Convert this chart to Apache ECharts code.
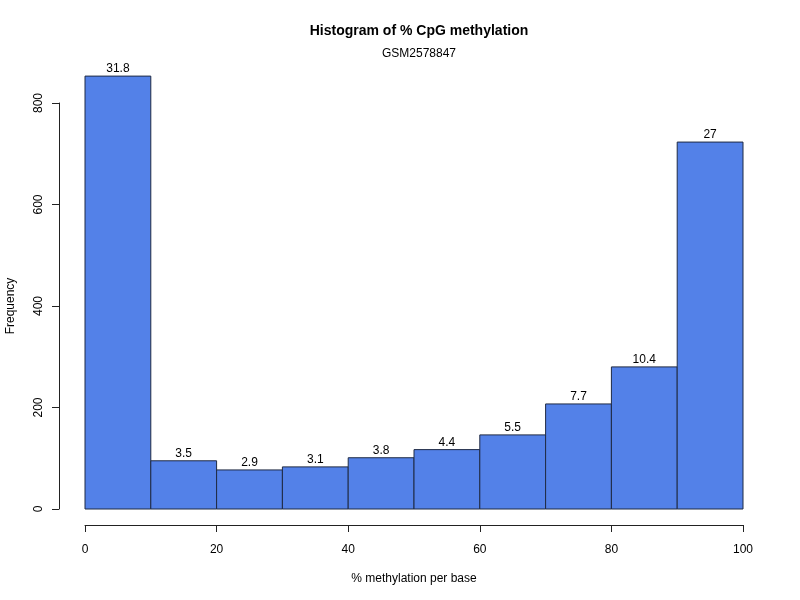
<!DOCTYPE html>
<html>
<head>
<meta charset="utf-8">
<script src="https://cdn.jsdelivr.net/npm/echarts@6/dist/echarts.min.js"></script>
<style>html,body{margin:0;padding:0;background:#fff;}#c{width:800px;height:600px;}</style>
</head>
<body>
<div id="c"></div>
<script>
const binStart = [0, 10, 20, 30, 40, 50, 60, 70, 80, 90];
const binEnd = [10, 20, 30, 40, 50, 60, 70, 80, 90, 100];
const frequency = [853, 95, 77, 83, 101, 117, 146, 207, 280, 723];
const percentLabels = ['31.8', '3.5', '2.9', '3.1', '3.8', '4.4', '5.5', '7.7', '10.4', '27'];
const xTicks = [0, 20, 40, 60, 80, 100];
const yTicks = [0, 200, 400, 600, 800];

const FONT = '"Liberation Sans", Arial, Helvetica, sans-serif';
const chart = echarts.init(document.getElementById('c'), null, {renderer: 'canvas'});
const data = binStart.map((s, i) => [s, binEnd[i], frequency[i]]);

chart.setOption({
  backgroundColor: '#ffffff',
  animation: false,
  title: [
    {text: 'Histogram of % CpG methylation', left: 414, top: 19, textAlign: 'center',
     textStyle: {fontFamily: FONT, fontSize: 14, fontWeight: 'bold', color: '#000'}},
    {text: 'GSM2578847', left: 414, top: 43, textAlign: 'center',
     textStyle: {fontFamily: FONT, fontSize: 12, fontWeight: 'normal', color: '#000'}}
  ],
  grid: {left: 85, right: 57, top: 103, bottom: 91, containLabel: false, outerBoundsMode: 'none'},
  xAxis: {
    type: 'value', min: 0, max: 100, interval: 20, offset: 16,
    name: '% methylation per base', nameLocation: 'middle', nameGap: 48,
    nameTextStyle: {fontFamily: FONT, fontSize: 12, color: '#000'},
    axisLine: {show: true, onZero: false, lineStyle: {color: '#222', width: 1}},
    axisTick: {show: true, length: 7, lineStyle: {color: '#222'}},
    axisLabel: {fontFamily: FONT, fontSize: 12, color: '#000', margin: 19,
      formatter: v => xTicks.includes(v) ? String(v) : ''},
    splitLine: {show: false}
  },
  yAxis: {
    type: 'value', min: 0, max: 800, interval: 200, offset: 26,
    name: 'Frequency', nameLocation: 'middle', nameGap: 42, nameRotate: 90,
    nameTextStyle: {fontFamily: FONT, fontSize: 12, color: '#000'},
    axisLine: {show: true, onZero: false, lineStyle: {color: '#222', width: 1}},
    axisTick: {show: true, length: 7, lineStyle: {color: '#222'}},
    axisLabel: {fontFamily: FONT, fontSize: 12, color: '#000', margin: 14, rotate: 90,
      formatter: v => yTicks.includes(v) ? String(v) : ''},
    splitLine: {show: false}
  },
  series: [{
    type: 'custom',
    clip: false,
    data: data,
    renderItem: function (params, api) {
      const p0 = api.coord([api.value(0), 0]);
      const p1 = api.coord([api.value(1), api.value(2)]);
      const idx = params.dataIndex;
      return {
        type: 'group',
        children: [
          {type: 'rect',
           shape: {x: p0[0], y: p1[1], width: p1[0] - p0[0], height: p0[1] - p1[1]},
           style: {fill: '#5381E8', stroke: '#1f2a44', lineWidth: 1}},
          {type: 'text', x: (p0[0] + p1[0]) / 2, y: p1[1] - 1,
           style: {text: percentLabels[idx], align: 'center', verticalAlign: 'bottom',
                   fontFamily: FONT, fontSize: 12, fill: '#000'}}
        ]
      };
    }
  }]
});
</script>
</body>
</html>
